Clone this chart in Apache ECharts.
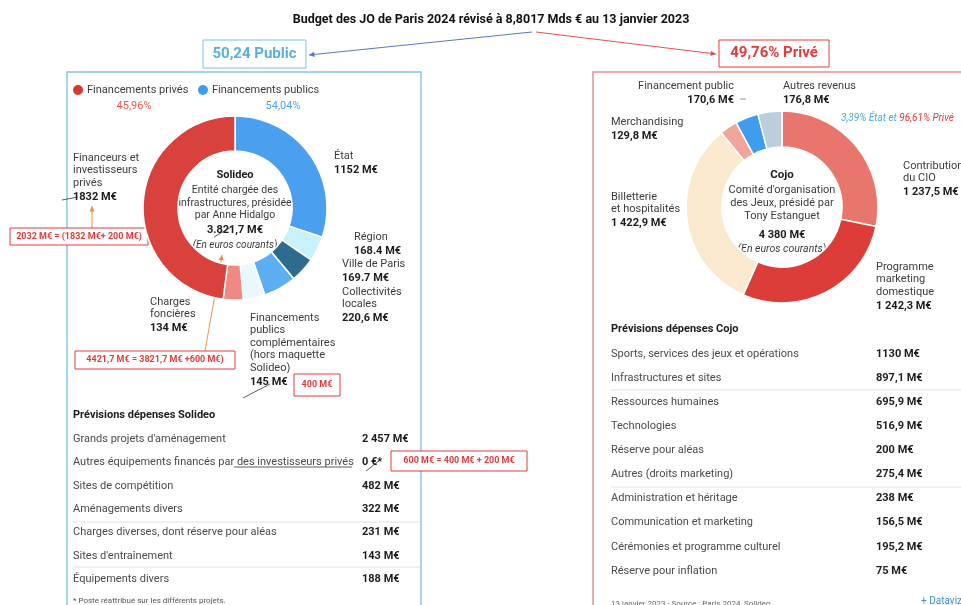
<!DOCTYPE html>
<html>
<head>
<meta charset="utf-8">
<script src="https://cdn.jsdelivr.net/npm/echarts@6/dist/echarts.min.js"></script>
<style>
  html, body { margin: 0; padding: 0; background: #fff; }
  #chart { width: 961px; height: 605px; }
</style>
</head>
<body>
<div id="chart"></div>
<script>
// Solideo (financement) - ordre horaire depuis le haut
const solideoNames = ['État', 'Région', 'Ville de Paris', 'Collectivités\nlocales',
  'Financements\npublics\ncomplémentaires\n(hors maquette\nSolideo)', 'Charges\nfoncières',
  'Financeurs et\ninvestisseurs\nprivés']
const solideoValues = [1152, 168.4, 169.7, 220.6, 145, 134, 1832]
const solideoValueLabels = ['1152 M€', '168.4 M€', '169.7 M€', '220,6 M€', '145 M€', '134 M€', '1832 M€']

// Cojo (recettes)
const cojoNames = ['Contribution\ndu CIO', 'Programme\nmarketing\ndomestique', 'Billetterie\net hospitalités',
  'Merchandising', 'Financement public', 'Autres revenus']
const cojoValues = [1237.5, 1242.3, 1422.9, 129.8, 170.6, 176.8]
const cojoValueLabels = ['1 237,5 M€', '1 242,3 M€', '1 422,9 M€', '129,8 M€', '170,6 M€', '176,8 M€']

// Tableaux de dépenses
const solideoDepenses = ['Grands projets d\'aménagement', 'Autres équipements financés par des investisseurs privés',
  'Sites de compétition', 'Aménagements divers', 'Charges diverses, dont réserve pour aléas',
  'Sites d\'entraînement', 'Équipements divers']
const solideoDepensesValues = ['2 457 M€', '0 €*', '482 M€', '322 M€', '231 M€', '143 M€', '188 M€']
const cojoDepenses = ['Sports, services des jeux et opérations', 'Infrastructures et sites', 'Ressources humaines',
  'Technologies', 'Réserve pour aléas', 'Autres (droits marketing)', 'Administration et héritage',
  'Communication et marketing', 'Cérémonies et programme culturel', 'Réserve pour inflation']
const cojoDepensesValues = ['1130 M€', '897,1 M€', '695,9 M€', '516,9 M€', '200 M€', '275,4 M€', '238 M€',
  '156,5 M€', '195,2 M€', '75 M€']

// styles / mise en page
const solideoColors = ['#4aa0ee', '#c9f1fa', '#2f6b8f', '#5cadf2', '#eaf7fb', '#ef8a82', '#d9413d']
const cojoColors = ['#e9766c', '#dc3d39', '#fbe9cf', '#f0a59b', '#3f9cee', '#bccddc']
const solideoLabelPos = [[334, 156, 'left'], [354, 237, 'left'], [342, 264, 'left'], [342, 292, 'left'],
  [250, 318, 'left'], [150, 302, 'left'], [73, 158, 'left']]
const cojoLabelPos = [[903, 166, 'left'], [876, 267, 'left'], [611, 197, 'left'],
  [611, 122, 'left'], [734, 86, 'right'], [783, 86, 'left']]

const FONT = 'Roboto, "Noto Sans", sans-serif'
const NARROW = '"Liberation Sans Narrow", Roboto, sans-serif'
const TXT = '#3c3c3c'
const VAL = '#1c1c1c'

function text (x, y, str, font, fill, align) {
  return {
    type: 'text', silent: true,
    style: { x: x, y: y, text: str, font: font, fill: fill || TXT, textAlign: align || 'left', textVerticalAlign: 'middle' }
  }
}

// libellé multi-lignes + valeur en gras
function label (pos, name, value, lh) {
  const lines = name.split('\n')
  const out = []
  lines.forEach((l, i) => out.push(text(pos[0], pos[1] + i * lh, l, '11px ' + FONT, TXT, pos[2])))
  out.push(text(pos[0], pos[1] + (lines.length - 1) * lh + 14, value, 'bold 11px ' + FONT, VAL, pos[2]))
  return out
}

function arrow (x1, y1, x2, y2, color, w) {
  const a = Math.atan2(y2 - y1, x2 - x1)
  const s = 6
  return [
    { type: 'line', silent: true, shape: { x1: x1, y1: y1, x2: x2, y2: y2 }, style: { stroke: color, lineWidth: w || 1 } },
    {
      type: 'polygon', silent: true,
      shape: {
        points: [[x2, y2],
          [x2 - s * Math.cos(a - 0.45), y2 - s * Math.sin(a - 0.45)],
          [x2 - s * Math.cos(a + 0.45), y2 - s * Math.sin(a + 0.45)]]
      },
      style: { fill: color }
    }
  ]
}

function box (x, y, w, h, str, color, font) {
  return [
    { type: 'rect', silent: true, shape: { x: x, y: y, width: w, height: h }, style: { fill: '#fff', stroke: color, lineWidth: 1 } },
    text(x + w / 2, y + h / 2, str, font, color, 'center')
  ]
}

function line (x1, y1, x2, y2, color, w) {
  return { type: 'line', silent: true, shape: { x1: x1, y1: y1, x2: x2, y2: y2 }, style: { stroke: color, lineWidth: w || 1 } }
}

const chart = echarts.init(document.getElementById('chart'))

let g = []
// cadres
g.push({ type: 'rect', silent: true, shape: { x: 67, y: 72, width: 354, height: 560 }, style: { fill: 'none', stroke: '#86c6ea', lineWidth: 1.5 } })
g.push({ type: 'rect', silent: true, shape: { x: 593, y: 72, width: 400, height: 560 }, style: { fill: 'none', stroke: '#e39393', lineWidth: 1.5 } })

// titre et flèches
g.push(text(491, 20, 'Budget des JO de Paris 2024 révisé à 8,8017 Mds € au 13 janvier 2023', 'bold 12.5px ' + NARROW, '#111', 'center'))
g = g.concat(arrow(532, 32, 309, 55, '#5b75c2', 1))
g = g.concat(arrow(536, 32, 716, 54, '#e05252', 1))
g = g.concat(box(203, 40, 103, 28, '50,24 Public', '#5aaee0', 'bold 15px ' + NARROW))
g[g.length - 2].style.stroke = '#7cc0e8'
g = g.concat(box(719, 40, 110, 27, '49,76% Privé', '#e03c3c', 'bold 15px ' + NARROW))

// légende Solideo
g.push({ type: 'circle', silent: true, shape: { cx: 78, cy: 90, r: 5 }, style: { fill: '#d8382f' } })
g.push(text(87, 90, 'Financements privés', '11px ' + FONT))
g.push({ type: 'circle', silent: true, shape: { cx: 203, cy: 90, r: 5 }, style: { fill: '#3d9cf0' } })
g.push(text(212, 90, 'Financements publics', '11px ' + FONT))
g.push(text(134, 106, '45,96%', '11px ' + FONT, '#e55b50', 'center'))
g.push(text(283, 106, '54,04%', '11px ' + FONT, '#4ba4ef', 'center'))

// libellés des donuts
solideoNames.forEach((n, i) => { g = g.concat(label(solideoLabelPos[i], n, solideoValueLabels[i], 12.5)) })
cojoNames.forEach((n, i) => { g = g.concat(label(cojoLabelPos[i], n, cojoValueLabels[i], 12.5)) })
g.push(line(740, 99, 746, 99, '#999', 1))

// centres
g.push(text(235, 175, 'Solideo', 'bold 11px ' + FONT, VAL, 'center'))
g.push(text(235, 190, 'Entité chargée des', '10.5px ' + FONT, TXT, 'center'))
g.push(text(235, 203, 'infrastructures, présidée', '10.5px ' + FONT, TXT, 'center'))
g.push(text(235, 215, 'par Anne Hidalgo', '10.5px ' + FONT, TXT, 'center'))
g.push(text(235, 230, '3.821,7 M€', 'bold 11px ' + FONT, VAL, 'center'))
g.push(text(235, 245, '(En euros courants)', 'italic 10px ' + FONT, TXT, 'center'))
g.push(text(782, 175, 'Cojo', 'bold 11.5px ' + FONT, VAL, 'center'))
g.push(text(782, 190, 'Comité d\'organisation', '11px ' + FONT, TXT, 'center'))
g.push(text(782, 203, 'des Jeux, présidé par', '11px ' + FONT, TXT, 'center'))
g.push(text(782, 216, 'Tony Estanguet', '11px ' + FONT, TXT, 'center'))
g.push(text(782, 235, '4 380 M€', 'bold 11px ' + FONT, VAL, 'center'))
g.push(text(782, 249, '(En euros courants)', 'italic 10.5px ' + FONT, TXT, 'center'))

// part État / Privé du Cojo
g.push({
  type: 'text', silent: true,
  style: {
    x: 841, y: 118, textVerticalAlign: 'middle', font: 'italic 10px ' + NARROW,
    text: '{b|3,39% État et }{r|96,61% Privé}',
    rich: { b: { fill: '#4aa6e6', font: 'italic 10px ' + NARROW }, r: { fill: '#e03c3c', font: 'italic 10px ' + NARROW } }
  }
})

// annotations
g = g.concat(arrow(92, 228, 92, 206, '#e8924e', 1))
g = g.concat(arrow(205, 351, 222, 255, '#e8924e', 1))
g = g.concat(box(10, 228, 138, 17, '2032 M€ = (1832 M€+ 200 M€)', '#e03c3c', 'bold 9px ' + NARROW))
g = g.concat(box(75, 351, 160, 18, '4421,7 M€ = 3821,7 M€ +600 M€)', '#e03c3c', 'bold 9px ' + NARROW))
g = g.concat(box(294, 374, 46, 22, '400 M€', '#e03c3c', 'bold 9px ' + NARROW))
g = g.concat(box(391, 451, 136, 20, '600 M€ = 400 M€ + 200 M€', '#e03c3c', 'bold 9px ' + NARROW))
g.push(line(62, 200, 78, 197, '#333', 0.8))
g.push(line(214, 237, 233, 226, '#333', 0.8))
g.push(line(243, 398, 270, 384, '#333', 0.8))
g.push(line(234, 467, 352, 467, '#333', 0.8))
g.push(line(366, 471, 380, 460, '#333', 0.8))

// tableau Solideo
g.push(text(73, 415, 'Prévisions dépenses Solideo', 'bold 11px ' + FONT, VAL))
solideoDepenses.forEach((n, i) => {
  const y = 439 + i * 23.4
  g.push(text(73, y, n, '11px ' + FONT, '#4a4a4a'))
  g.push(text(362, y, solideoDepensesValues[i], 'bold 11px ' + FONT, VAL))
})
g.push(line(73, 522, 420, 522, '#dde3e8', 1))
g.push(line(73, 567, 420, 567, '#dde3e8', 1))
g.push(text(73, 601, '* Poste réattribué sur les différents projets.', '8px ' + FONT, '#555'))

// tableau Cojo
g.push(text(611, 329, 'Prévisions dépenses Cojo', 'bold 11px ' + FONT, VAL))
cojoDepenses.forEach((n, i) => {
  const y = 354 + i * 24.1
  g.push(text(611, y, n, '11px ' + FONT, '#4a4a4a'))
  g.push(text(876, y, cojoDepensesValues[i], 'bold 11px ' + FONT, VAL))
})
g.push(line(611, 390, 961, 390, '#dde3e8', 1))
g.push(line(611, 487, 961, 487, '#dde3e8', 1))
g.push(text(611, 604, '13 janvier 2023 - Source : Paris 2024, Solideo', '8px ' + FONT, '#666'))
g.push(text(921, 601, '+ Dataviz', '10px ' + FONT, '#3d8fd8'))

const option = {
  animation: false,
  series: [
    {
      type: 'pie',
      silent: true,
      center: [235, 208],
      radius: [57, 92],
      startAngle: 90,
      label: { show: false },
      labelLine: { show: false },
      itemStyle: { borderColor: '#fff', borderWidth: 1.5 },
      data: solideoNames.map((n, i) => ({ name: n, value: solideoValues[i], itemStyle: { color: solideoColors[i] } }))
    },
    {
      type: 'pie',
      silent: true,
      center: [782, 207],
      radius: [60, 96],
      startAngle: 90,
      label: { show: false },
      labelLine: { show: false },
      itemStyle: { borderColor: '#fff', borderWidth: 1.5 },
      data: cojoNames.map((n, i) => ({ name: n, value: cojoValues[i], itemStyle: { color: cojoColors[i] } }))
    }
  ],
  graphic: g
}
chart.setOption(option)
</script>
</body>
</html>
